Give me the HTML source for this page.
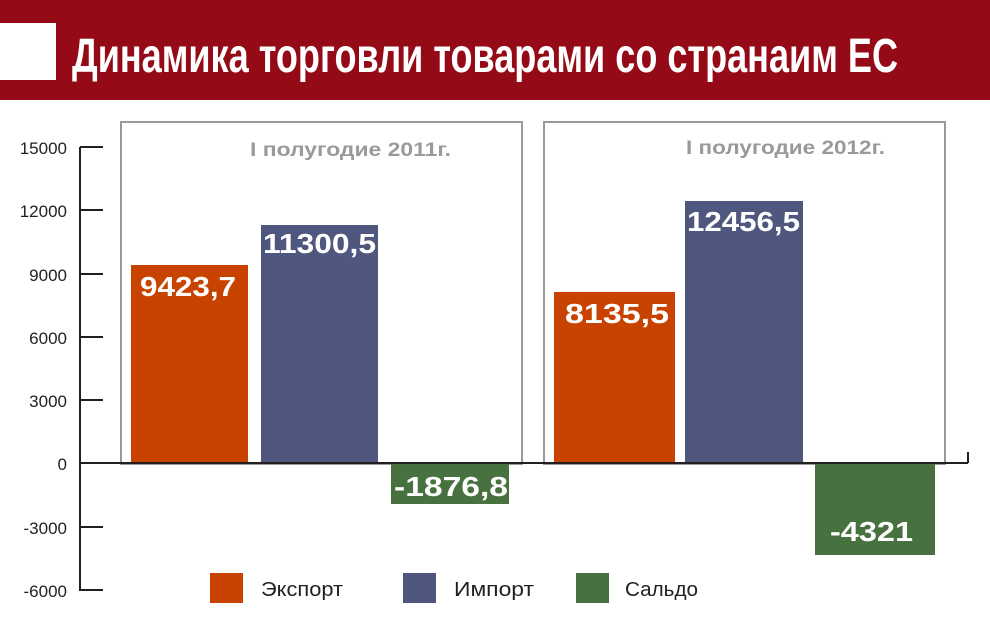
<!DOCTYPE html>
<html><head><meta charset="utf-8"><style>
html,body{margin:0;padding:0;background:#fff;}
svg{display:block;font-family:"Liberation Sans",sans-serif;}
</style></head><body>
<svg width="990" height="633" viewBox="0 0 990 633" xmlns="http://www.w3.org/2000/svg">
<rect x="0" y="0" width="990" height="100" fill="#940b17"/>
<rect x="0" y="23" width="56" height="57" fill="#fff"/>
<text x="72" y="72" fill="#fff" font-size="48" font-weight="bold" textLength="826" lengthAdjust="spacingAndGlyphs">Динамика торговли товарами со странаим ЕС</text>

<rect x="121" y="122" width="401" height="342" fill="none" stroke="#9a9a9c" stroke-width="2"/>
<rect x="544" y="122" width="401" height="342" fill="none" stroke="#9a9a9c" stroke-width="2"/>
<text x="250" y="156" fill="#9a9a9c" font-size="19" font-weight="bold" textLength="201" lengthAdjust="spacingAndGlyphs">I полугодие 2011г.</text>
<text x="686" y="154" fill="#9a9a9c" font-size="19" font-weight="bold" textLength="199" lengthAdjust="spacingAndGlyphs">I полугодие 2012г.</text>

<rect x="131" y="265" width="117" height="198" fill="#c94300"/>
<rect x="261" y="225" width="117" height="238" fill="#50577f"/>
<rect x="391" y="463" width="118" height="41" fill="#47713e"/>
<rect x="554" y="292" width="121" height="171" fill="#c94300"/>
<rect x="685" y="201" width="118" height="262" fill="#50577f"/>
<rect x="815" y="463" width="120" height="92" fill="#47713e"/>

<g fill="#fff" font-size="28" font-weight="bold">
<text x="140" y="296" textLength="96" lengthAdjust="spacingAndGlyphs">9423,7</text>
<text x="263" y="253" textLength="113" lengthAdjust="spacingAndGlyphs">11300,5</text>
<text x="394" y="496" textLength="114" lengthAdjust="spacingAndGlyphs">-1876,8</text>
<text x="565" y="323" textLength="104" lengthAdjust="spacingAndGlyphs">8135,5</text>
<text x="687" y="231" textLength="113" lengthAdjust="spacingAndGlyphs">12456,5</text>
<text x="830" y="541" textLength="83" lengthAdjust="spacingAndGlyphs">-4321</text>
</g>

<g stroke="#231f20" stroke-width="2" fill="none">
<line x1="80" y1="147" x2="80" y2="591"/>
<line x1="80" y1="147" x2="103" y2="147"/>
<line x1="80" y1="210" x2="103" y2="210"/>
<line x1="80" y1="274" x2="103" y2="274"/>
<line x1="80" y1="337" x2="103" y2="337"/>
<line x1="80" y1="400" x2="103" y2="400"/>
<line x1="80" y1="527" x2="103" y2="527"/>
<line x1="80" y1="590" x2="103" y2="590"/>
<line x1="80" y1="463" x2="968" y2="463"/>
<line x1="968" y1="463" x2="968" y2="452"/>
</g>
<g fill="#231f20" font-size="17" text-anchor="end">
<text x="67" y="154">15000</text>
<text x="67" y="217">12000</text>
<text x="67" y="281">9000</text>
<text x="67" y="344">6000</text>
<text x="67" y="407">3000</text>
<text x="67" y="470">0</text>
<text x="67" y="534">-3000</text>
<text x="67" y="597">-6000</text>
</g>

<rect x="210" y="573" width="33" height="30" fill="#c94300"/>
<rect x="403" y="573" width="33" height="30" fill="#50577f"/>
<rect x="576" y="573" width="33" height="30" fill="#47713e"/>
<g fill="#231f20" font-size="20">
<text x="261" y="596" textLength="82" lengthAdjust="spacingAndGlyphs">Экспорт</text>
<text x="454" y="596" textLength="80" lengthAdjust="spacingAndGlyphs">Импорт</text>
<text x="625" y="596" textLength="73" lengthAdjust="spacingAndGlyphs">Сальдо</text>
</g>
</svg>
</body></html>
